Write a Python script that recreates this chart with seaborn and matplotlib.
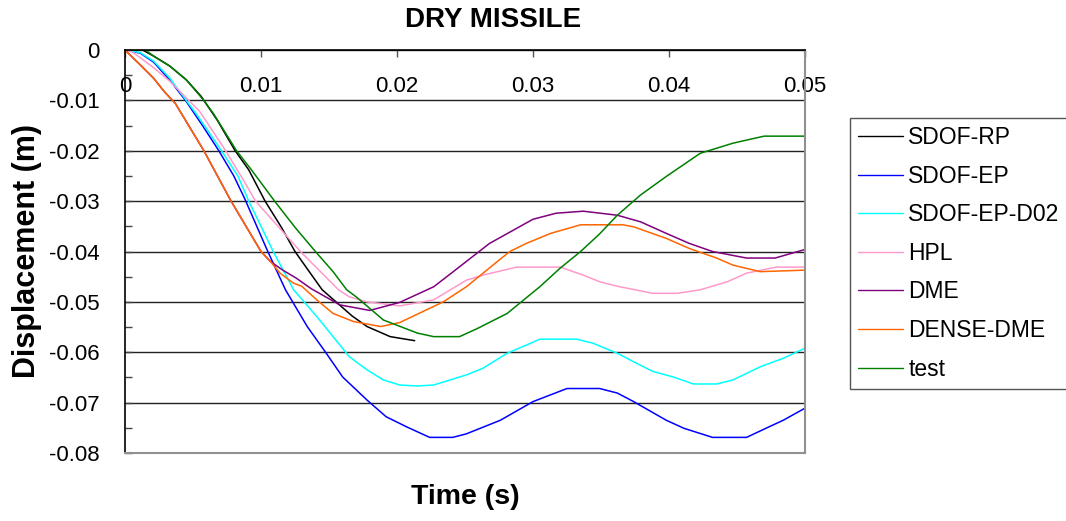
import numpy as np
import pandas as pd
import matplotlib
matplotlib.use("Agg")
import matplotlib.pyplot as plt
from matplotlib.ticker import MultipleLocator, FuncFormatter
import seaborn as sns

# ---------------- data ----------------
series_names = ["SDOF-RP", "SDOF-EP", "SDOF-EP-D02", "HPL", "DME", "DENSE-DME", "test"]
series_colors = ["#000000", "#0000FF", "#00FFFF", "#FF99CC", "#800080", "#FF6600", "#008000"]

t_sdof_rp = [0, 0.0013, 0.0021, 0.0033, 0.0045, 0.0056, 0.0068, 0.0081, 0.0091, 0.0103,
             0.0115, 0.0125, 0.0136, 0.0145, 0.0156, 0.0167, 0.0178, 0.0195, 0.0213]
d_sdof_rp = [0, 0, -0.0012, -0.0032, -0.0059, -0.0092, -0.0140, -0.0200, -0.0238, -0.0300,
             -0.0352, -0.0400, -0.0442, -0.0476, -0.0502, -0.0528, -0.0549, -0.0569, -0.0577]

t_sdof_ep = [0, 0.0011, 0.0021, 0.0033, 0.0045, 0.0057, 0.0069, 0.0080, 0.0088, 0.0105,
             0.0118, 0.0134, 0.0148, 0.0160, 0.0178, 0.0192, 0.0207, 0.0224, 0.0241, 0.0251,
             0.0276, 0.0300, 0.0325, 0.0349, 0.0362, 0.0374, 0.0398, 0.0411, 0.0432, 0.0457,
             0.0472, 0.0484, 0.0500]
d_sdof_ep = [0, -0.0006, -0.0024, -0.0060, -0.0102, -0.0150, -0.0200, -0.0250, -0.0295, -0.0400,
             -0.0476, -0.0549, -0.0602, -0.0649, -0.0695, -0.0728, -0.0748, -0.0769, -0.0769, -0.0762,
             -0.0735, -0.0698, -0.0672, -0.0672, -0.0681, -0.0698, -0.0735, -0.0751, -0.0769, -0.0769,
             -0.0750, -0.0735, -0.0711]

t_sdof_ep_d02 = [0, 0.0011, 0.0021, 0.0033, 0.0045, 0.0053, 0.0071, 0.0083, 0.0091, 0.0109,
                 0.0124, 0.0141, 0.0153, 0.0165, 0.0178, 0.0190, 0.0202, 0.0215, 0.0227, 0.0251,
                 0.0263, 0.0281, 0.0295, 0.0305, 0.0332, 0.0344, 0.0362, 0.0374, 0.0388, 0.0403,
                 0.0418, 0.0435, 0.0447, 0.0467, 0.0484, 0.0500]
d_sdof_ep_d02 = [0, -0.0005, -0.0022, -0.0056, -0.0100, -0.0129, -0.0200, -0.0250, -0.0300, -0.0400,
                 -0.0476, -0.0529, -0.0569, -0.0609, -0.0635, -0.0655, -0.0665, -0.0667, -0.0665, -0.0645,
                 -0.0632, -0.0602, -0.0586, -0.0574, -0.0574, -0.0582, -0.0602, -0.0619, -0.0638, -0.0649,
                 -0.0663, -0.0663, -0.0655, -0.0629, -0.0612, -0.0592]

t_hpl = [0, 0.0006, 0.0021, 0.0033, 0.0045, 0.0055, 0.0074, 0.0087, 0.0096, 0.0129,
         0.0157, 0.0165, 0.0178, 0.0202, 0.0227, 0.0251, 0.0263, 0.0288, 0.0320, 0.0337,
         0.0349, 0.0362, 0.0388, 0.0406, 0.0423, 0.0443, 0.0457, 0.0479, 0.0500]
d_hpl = [0, -0.0005, -0.0035, -0.0062, -0.0095, -0.0122, -0.0200, -0.0258, -0.0300, -0.0400,
         -0.0476, -0.0490, -0.0500, -0.0508, -0.0496, -0.0457, -0.0447, -0.0431, -0.0431, -0.0447,
         -0.0460, -0.0469, -0.0483, -0.0483, -0.0476, -0.0460, -0.0443, -0.0431, -0.0431]

t_dme = [0, 0.0011, 0.0021, 0.0029, 0.0037, 0.0058, 0.0078, 0.0100, 0.0107, 0.0116,
         0.0126, 0.0137, 0.0158, 0.0180, 0.0202, 0.0227, 0.0239, 0.0268, 0.0288, 0.0300,
         0.0317, 0.0337, 0.0362, 0.0379, 0.0398, 0.0415, 0.0432, 0.0457, 0.0478, 0.0500]
d_dme = [0, -0.0029, -0.0056, -0.0083, -0.0106, -0.0200, -0.0300, -0.0400, -0.0420, -0.0437,
         -0.0453, -0.0474, -0.0506, -0.0517, -0.0501, -0.0470, -0.0445, -0.0384, -0.0354, -0.0336,
         -0.0324, -0.0320, -0.0328, -0.0341, -0.0364, -0.0384, -0.0400, -0.0413, -0.0413, -0.0396]

t_dense_dme = [0, 0.0011, 0.0021, 0.0029, 0.0037, 0.0058, 0.0078, 0.0100, 0.0107, 0.0114,
               0.0124, 0.0130, 0.0141, 0.0153, 0.0168, 0.0188, 0.0202, 0.0234, 0.0251, 0.0276,
               0.0283, 0.0295, 0.0313, 0.0335, 0.0366, 0.0374, 0.0398, 0.0415, 0.0435, 0.0447,
               0.0467, 0.0500]
d_dense_dme = [0, -0.0029, -0.0056, -0.0083, -0.0106, -0.0200, -0.0300, -0.0400, -0.0420, -0.0443,
               -0.0463, -0.0469, -0.0496, -0.0523, -0.0539, -0.0549, -0.0541, -0.0500, -0.0470, -0.0415,
               -0.0400, -0.0384, -0.0364, -0.0347, -0.0347, -0.0351, -0.0374, -0.0394, -0.0413, -0.0427,
               -0.0440, -0.0437]

t_test = [0, 0.0015, 0.0021, 0.0033, 0.0045, 0.0057, 0.0065, 0.0082, 0.0093, 0.0110,
          0.0125, 0.0140, 0.0153, 0.0163, 0.0170, 0.0190, 0.0215, 0.0227, 0.0246, 0.0259,
          0.0281, 0.0305, 0.0320, 0.0335, 0.0349, 0.0362, 0.0379, 0.0398, 0.0423, 0.0447,
          0.0460, 0.0470, 0.0500]
d_test = [0, 0, -0.0012, -0.0032, -0.0059, -0.0097, -0.0126, -0.0200, -0.0238, -0.0300,
          -0.0352, -0.0400, -0.0440, -0.0476, -0.0490, -0.0536, -0.0562, -0.0569, -0.0569, -0.0553,
          -0.0523, -0.0470, -0.0433, -0.0400, -0.0365, -0.0328, -0.0288, -0.0251, -0.0205, -0.0185,
          -0.0177, -0.0171, -0.0171]

x_ticks = [0, 0.01, 0.02, 0.03, 0.04, 0.05]
y_ticks = [0, -0.01, -0.02, -0.03, -0.04, -0.05, -0.06, -0.07, -0.08]

title_text = "DRY MISSILE"
x_label = "Time (s)"
y_label = "Displacement (m)"

# ---------------- build long-form table ----------------
all_t = [t_sdof_rp, t_sdof_ep, t_sdof_ep_d02, t_hpl, t_dme, t_dense_dme, t_test]
all_d = [d_sdof_rp, d_sdof_ep, d_sdof_ep_d02, d_hpl, d_dme, d_dense_dme, d_test]
frames = []
for name, tt, dd in zip(series_names, all_t, all_d):
    assert len(tt) == len(dd), name
    frames.append(pd.DataFrame({"Time": tt, "Disp": dd, "Series": name}))
df = pd.concat(frames, ignore_index=True)

# ---------------- styling ----------------
sns.set_style("white")
plt.rcParams["font.family"] = ["Liberation Sans", "DejaVu Sans"]
plt.rcParams["axes.unicode_minus"] = False
plt.rcParams["text.color"] = "black"
plt.rcParams["axes.labelcolor"] = "black"
plt.rcParams["xtick.color"] = "black"
plt.rcParams["ytick.color"] = "black"

fig = plt.figure(figsize=(10.66, 5.21), dpi=100)
ax = fig.add_axes([125 / 1066, 1 - 453 / 521, (805 - 125) / 1066, (453 - 50) / 521])

sns.lineplot(data=df, x="Time", y="Disp", hue="Series", hue_order=series_names,
             palette=dict(zip(series_names, series_colors)), estimator=None, sort=False,
             linewidth=1.1, ax=ax, legend=True)

ax.set_xlim(0, 0.05)
ax.set_ylim(-0.08, 0)

# y axis
ax.set_yticks(y_ticks)
ax.yaxis.set_major_formatter(FuncFormatter(lambda v, p: "{:g}".format(round(v, 4))))
ax.yaxis.set_minor_locator(MultipleLocator(0.005))
ax.tick_params(axis="y", which="both", direction="in", left=True, right=False,
               length=5, width=1, color="#444444", labelsize=16, labelcolor="black", pad=18)
ax.yaxis.grid(True, which="major", color="#222222", linewidth=1.0)
ax.set_axisbelow(True)

# x axis (on top, labels inside the plot area)
ax.set_xticks(x_ticks)
ax.xaxis.set_major_formatter(FuncFormatter(lambda v, p: "{:g}".format(round(v, 4))))
ax.tick_params(axis="x", which="both", top=True, bottom=False, labeltop=True, labelbottom=False,
               direction="in", length=5, width=1, color="#555555", labelsize=16,
               labelcolor="black", pad=-34)
ax.xaxis.grid(False)

ax.set_xlabel(x_label, fontsize=20.5, fontweight="bold", labelpad=22, color="black")
ax.xaxis.set_label_position("bottom")
ax.set_ylabel(y_label, fontsize=22, fontweight="bold", labelpad=5, color="black")

for side in ["left", "top"]:
    ax.spines[side].set_color("#000000")
    ax.spines[side].set_linewidth(1.2)
for side in ["right", "bottom"]:
    ax.spines[side].set_color("#909090")
    ax.spines[side].set_linewidth(1.5)

fig.text(493 / 1066, 1 - 20 / 521, title_text, fontsize=20, fontweight="bold",
         ha="center", va="center", color="black")

# legend
handles, labels = ax.get_legend_handles_labels()
if ax.legend_ is not None:
    ax.legend_.remove()
leg = fig.legend(handles, labels, loc="upper left",
                 bbox_to_anchor=(850 / 1066, 1 - 118 / 521), bbox_transform=fig.transFigure,
                 frameon=True, fancybox=False, framealpha=1, edgecolor="#555555",
                 fontsize=16.5, labelspacing=0.68, handlelength=1.95, handletextpad=0.25,
                 borderpad=0.35, borderaxespad=0)
leg.get_frame().set_linewidth(1.0)
for txt in leg.get_texts():
    txt.set_color("black")
for line in leg.get_lines():
    line.set_linewidth(1.0)

fig.savefig("out.png", dpi=100)
